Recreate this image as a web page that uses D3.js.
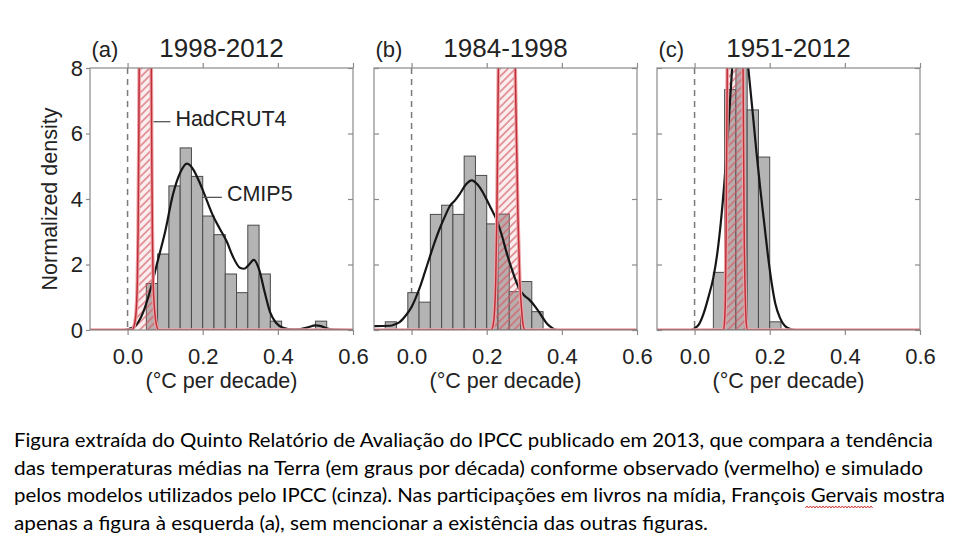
<!DOCTYPE html>
<html><head><meta charset="utf-8">
<script src="https://cdn.jsdelivr.net/npm/d3@7"></script>
<style>html,body{margin:0;padding:0;background:#fff;} svg{display:block;}</style>
</head><body><svg id="chart" width="980" height="548"></svg>
<script>
// ---------- data ----------
const panelLabels = ["(a)", "(b)", "(c)"];
const periods = ["1998-2012", "1984-1998", "1951-2012"];
const xTicks = [0.0, 0.2, 0.4, 0.6];
const yTicks = [0, 2, 4, 6, 8];
const binWidth = 0.03;

const binStartsA = [0.05, 0.08, 0.11, 0.14, 0.17, 0.20, 0.23, 0.26, 0.29, 0.32, 0.35, 0.38, 0.50];
const binHeightsA = [1.42, 2.32, 4.40, 5.56, 4.69, 3.48, 2.91, 1.71, 1.14, 3.20, 1.71, 0.27, 0.27];
const binStartsB = [-0.07, -0.01, 0.02, 0.05, 0.08, 0.11, 0.14, 0.17, 0.20, 0.23, 0.26, 0.29, 0.32];
const binHeightsB = [0.25, 1.14, 0.85, 3.53, 3.81, 3.53, 5.31, 4.72, 3.24, 3.54, 1.17, 1.48, 0.56];
const binStartsC = [0.05, 0.08, 0.11, 0.14, 0.17, 0.20];
const binHeightsC = [1.76, 7.34, 9.50, 6.72, 5.28, 0.25];

// CMIP5 smoothed density (black curve) as [trend, density]
const kdeA = [[-0.1,0],[-0.01,0],[0.0,0.02],[0.02,0.12],[0.04,0.5],[0.06,1.2],[0.08,2.1],[0.10,3.0],[0.12,4.1],[0.14,4.8],[0.158,5.08],[0.175,4.9],[0.19,4.55],[0.202,4.22],[0.227,3.5],[0.245,3.1],[0.264,2.7],[0.28,2.25],[0.299,1.9],[0.31,1.87],[0.322,1.98],[0.336,2.14],[0.35,1.85],[0.365,1.15],[0.379,0.55],[0.395,0.22],[0.414,0.07],[0.44,0.02],[0.46,0.03],[0.48,0.08],[0.50,0.14],[0.515,0.12],[0.53,0.05],[0.55,0.01],[0.6,0]];
const kdeB = [[-0.1,0.12],[-0.058,0.13],[-0.045,0.17],[-0.031,0.25],[-0.015,0.45],[0.0,0.7],[0.01,0.95],[0.022,1.3],[0.035,1.75],[0.049,2.25],[0.062,2.7],[0.075,3.1],[0.09,3.5],[0.1015,3.78],[0.115,3.95],[0.128,4.15],[0.145,4.45],[0.16,4.57],[0.175,4.45],[0.19,4.2],[0.199,4.0],[0.212,3.7],[0.225,3.4],[0.24,2.9],[0.252,2.4],[0.27,1.75],[0.287,1.25],[0.30,1.05],[0.314,0.92],[0.33,0.7],[0.345,0.45],[0.36,0.2],[0.376,0.05],[0.39,0.0],[0.6,0]];
const kdeC = [[-0.1,0],[-0.01,0],[0.0,0.05],[0.012,0.18],[0.024,0.5],[0.038,1.05],[0.05,1.6],[0.06,2.3],[0.07,3.3],[0.08,4.6],[0.09,6.2],[0.1,8.0],[0.11,9.5],[0.12,10.0],[0.13,9.6],[0.143,8.0],[0.155,6.6],[0.165,5.4],[0.175,4.3],[0.185,3.3],[0.195,2.3],[0.205,1.45],[0.215,0.8],[0.227,0.38],[0.24,0.13],[0.255,0.03],[0.27,0],[0.6,0]];

// HadCRUT4 observed trend density (red hatched)
const obsA = [[-0.1,0],[0.012,0],[0.018,0.15],[0.023,0.6],[0.026,1.5],[0.028,3],[0.030,6],[0.032,10],[0.047,12],[0.062,10],[0.064,6],[0.066,3],[0.068,1.5],[0.072,0.6],[0.077,0.15],[0.083,0],[0.6,0]];
const obsB = [[-0.1,0],[0.212,0],[0.217,0.15],[0.221,0.6],[0.224,1.5],[0.227,3.5],[0.231,8],[0.233,10],[0.253,12],[0.273,10],[0.276,8],[0.283,3.5],[0.288,1.5],[0.293,0.6],[0.297,0.15],[0.302,0],[0.6,0]];
const obsC = [[-0.1,0],[0.077,0],[0.080,0.3],[0.082,1],[0.084,3],[0.087,8],[0.088,10],[0.108,12],[0.128,10],[0.129,8],[0.132,3],[0.135,1],[0.137,0.3],[0.141,0],[0.6,0]];

const annotations = [
  {text: "HadCRUT4", from: 0.069, to: 0.114, level: 6.36},
  {text: "CMIP5", from: 0.198, to: 0.251, level: 4.05}
];

const captionLines = [
  "Figura extraída do Quinto Relatório de Avaliação do IPCC publicado em 2013, que compara a tendência",
  "das temperaturas médias na Terra (em graus por década) conforme observado (vermelho) e simulado",
  "pelos modelos utilizados pelo IPCC (cinza). Nas participações em livros na mídia, François Gervais mostra",
  "apenas a figura à esquerda (a), sem mencionar a existência das outras figuras."
];
const misspelledWord = "Gervais";

// ---------- layout ----------
const panelLefts = [90, 374, 657];
const panelW = 263, panelTop = 68, panelBottom = 330;
const font = "'Liberation Sans', Arial, Helvetica, sans-serif";
const captionWidths = [919, 909, 931, 694];
const captionBaselines = [447, 475, 502, 530];

const svg = d3.select("#chart");
const defs = svg.append("defs");
const pat = defs.append("pattern").attr("id", "hatch")
  .attr("patternUnits", "userSpaceOnUse").attr("width", 5.4).attr("height", 5.4)
  .attr("patternTransform", "rotate(45)");
pat.append("line").attr("x1", 2.7).attr("x2", 2.7).attr("y1", 0).attr("y2", 5.4)
  .attr("stroke", "#d25a63").attr("stroke-width", 1.1);

const panels = [
  {starts: binStartsA, heights: binHeightsA, kde: kdeA, obs: obsA},
  {starts: binStartsB, heights: binHeightsB, kde: kdeB, obs: obsB},
  {starts: binStartsC, heights: binHeightsC, kde: kdeC, obs: obsC}
];

panels.forEach((p, i) => {
  const left = panelLefts[i];
  const x = d3.scaleLinear().domain([-0.1, 0.6]).range([left, left + panelW]);
  const y = d3.scaleLinear().domain([0, 8]).range([panelBottom, panelTop]);

  defs.append("clipPath").attr("id", "clip" + i).append("rect")
    .attr("x", left).attr("y", panelTop).attr("width", panelW).attr("height", panelBottom - panelTop);

  const g = svg.append("g");
  const plot = g.append("g").attr("clip-path", `url(#clip${i})`);

  // zero line
  plot.append("line").attr("x1", x(0)).attr("x2", x(0)).attr("y1", panelTop).attr("y2", panelBottom)
    .attr("stroke", "#7a7a7a").attr("stroke-width", 1.5).attr("stroke-dasharray", "6,5");

  // histogram
  plot.selectAll("rect.bar").data(p.starts.map((s, k) => ({s, h: p.heights[k]}))).join("rect")
    .attr("class", "bar")
    .attr("x", d => x(d.s)).attr("width", d => x(d.s + binWidth) - x(d.s))
    .attr("y", d => y(d.h)).attr("height", d => y(0) - y(d.h))
    .attr("fill", "#b4b4b4").attr("stroke", "#4a4a4a").attr("stroke-width", 1);

  // observed hatched area
  const area = d3.area().x(d => x(d[0])).y0(y(0)).y1(d => y(d[1])).curve(d3.curveMonotoneX);
  plot.append("path").datum(p.obs).attr("d", area).attr("fill", "rgba(225,120,128,0.14)");
  plot.append("path").datum(p.obs).attr("d", area).attr("fill", "url(#hatch)");

  // CMIP5 curve
  const line = d3.line().x(d => x(d[0])).y(d => y(d[1])).curve(d3.curveMonotoneX);
  plot.append("path").datum(p.kde).attr("d", line).attr("fill", "none")
    .attr("stroke", "#161616").attr("stroke-width", 2.2);

  // frame
  g.append("rect").attr("x", left).attr("y", panelTop).attr("width", panelW).attr("height", panelBottom - panelTop)
    .attr("fill", "none").attr("stroke", "#8a8a8a").attr("stroke-width", 1.2);

  // observed outline
  const oline = d3.line().x(d => x(d[0])).y(d => y(d[1])).curve(d3.curveMonotoneX);
  plot.append("path").datum(p.obs).attr("d", oline).attr("fill", "none")
    .attr("stroke", "#eea6aa").attr("stroke-width", 3.6);
  plot.append("path").datum(p.obs).attr("d", oline).attr("fill", "none")
    .attr("stroke", "#c02e37").attr("stroke-width", 1.5);

  // axes
  const styleAxis = sel => {
    sel.select(".domain").remove();
    sel.selectAll(".tick line").attr("stroke", "#8a8a8a").attr("stroke-width", 1.2);
    sel.selectAll("text").attr("font-family", font).attr("font-size", 22).attr("fill", "#222");
  };
  g.append("g").attr("transform", `translate(0,${panelBottom})`)
    .call(d3.axisBottom(x).tickValues(xTicks).tickFormat(d3.format(".1f")).tickSize(5).tickPadding(13))
    .call(styleAxis);
  g.append("g").attr("transform", `translate(0,${panelTop})`)
    .call(d3.axisTop(x).tickValues(xTicks).tickFormat("").tickSize(5)).call(styleAxis);
  g.append("g").attr("transform", `translate(${left + panelW},0)`)
    .call(d3.axisLeft(y).tickValues(yTicks).tickFormat("").tickSize(5)).call(styleAxis);
  if (i === 0) {
    g.append("g").attr("transform", `translate(${left},0)`)
      .call(d3.axisLeft(y).tickValues(yTicks).tickSize(4).tickPadding(3)).call(styleAxis);
  } else {
    g.append("g").attr("transform", `translate(${left},0)`)
      .call(d3.axisRight(y).tickValues(yTicks).tickFormat("").tickSize(5)).call(styleAxis);
  }

  // titles
  g.append("text").attr("x", left + 1.5).attr("y", 56.5).text(panelLabels[i])
    .attr("font-family", font).attr("font-size", 22).attr("fill", "#222");
  g.append("text").attr("x", left + panelW / 2).attr("y", 56.5).attr("text-anchor", "middle").text(periods[i])
    .attr("font-family", font).attr("font-size", 26).attr("fill", "#222");
  g.append("text").attr("x", left + panelW / 2).attr("y", 388).attr("text-anchor", "middle").text("(°C per decade)")
    .attr("font-family", font).attr("font-size", 21.5).attr("fill", "#222");

  if (i === 0) {
    g.append("text").attr("transform", `translate(57,${(panelTop + panelBottom) / 2}) rotate(-90)`)
      .attr("text-anchor", "middle").text("Normalized density")
      .attr("font-family", font).attr("font-size", 21.5).attr("fill", "#222");
    annotations.forEach(a => {
      g.append("line").attr("x1", x(a.from)).attr("x2", x(a.to)).attr("y1", y(a.level)).attr("y2", y(a.level))
        .attr("stroke", "#555").attr("stroke-width", 1.3);
      g.append("text").attr("x", x(a.to) + 5).attr("y", y(a.level) + 4).text(a.text)
        .attr("font-family", font).attr("font-size", 21.5).attr("fill", "#222");
    });
  }
});

// ---------- caption ----------
const capFont = "Lato, 'Open Sans', sans-serif";
const capSize = 19;
captionLines.forEach((t, k) => {
  const txt = svg.append("text").attr("x", 14).attr("y", captionBaselines[k])
    .attr("font-family", capFont).attr("font-size", capSize).attr("fill", "#000").text(t);
  const natural = txt.node().getComputedTextLength();
  txt.attr("textLength", captionWidths[k]).attr("lengthAdjust", "spacingAndGlyphs");
  const idx = t.indexOf(misspelledWord);
  if (idx >= 0) {
    const scale = captionWidths[k] / natural;
    const tmp = svg.append("text").attr("font-family", capFont).attr("font-size", capSize).text(t.slice(0, idx));
    const pre = tmp.node().getComputedTextLength();
    tmp.text(misspelledWord);
    const wl = tmp.node().getComputedTextLength();
    tmp.remove();
    const x0 = 14 + pre * scale, x1 = x0 + wl * scale, yy = captionBaselines[k] + 5;
    const pts = [];
    for (let xx = x0, s = 0; xx <= x1; xx += 1.6, s++) pts.push([xx, yy + (s % 2 ? -1 : 1)]);
    svg.append("path").attr("d", d3.line()(pts)).attr("fill", "none").attr("stroke", "#d02020").attr("stroke-width", 0.9);
  }
});
</script>
</body></html>
